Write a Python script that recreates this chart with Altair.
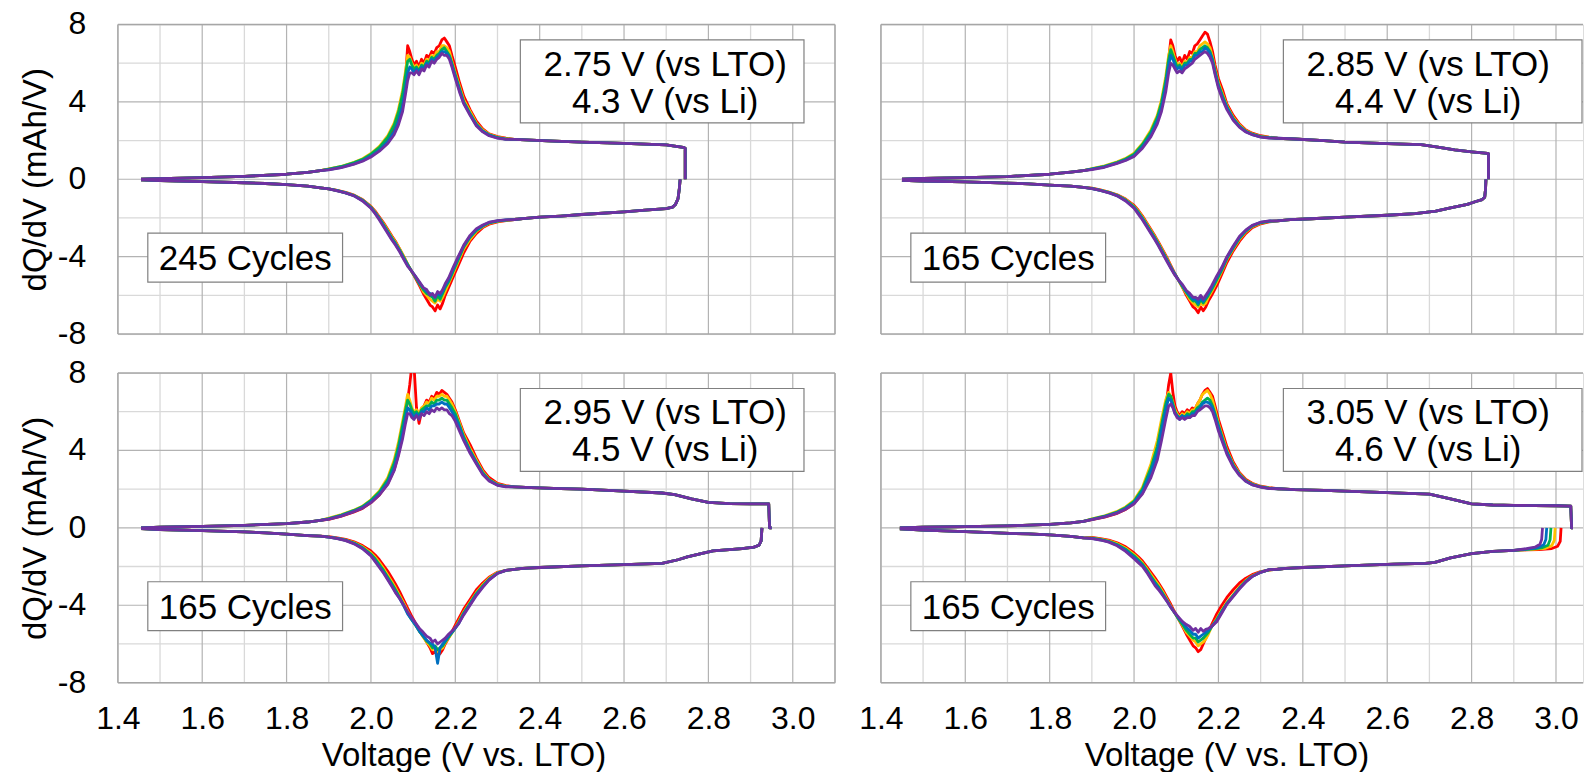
import altair as alt
import pandas as pd

FONT = "Liberation Sans"

# one colour per recorded cycle group, first cycle (red) drawn first, last (purple) on top
COLOURS = ["#ff0000", "#ffc000", "#00b050", "#0070c0", "#7030a0"]
CYCLE_KEYS = ["c1", "c2", "c3", "c4", "c5"]

ANNOT_LTO = ["2.75 V (vs LTO)", "2.85 V (vs LTO)", "2.95 V (vs LTO)", "3.05 V (vs LTO)"]
ANNOT_LI = ["4.3 V (vs Li)", "4.4 V (vs Li)", "4.5 V (vs Li)", "4.6 V (vs Li)"]
ANNOT_CYCLES = ["245 Cycles", "165 Cycles", "165 Cycles", "165 Cycles"]

X_TICKS = [1.4, 1.6, 1.8, 2.0, 2.2, 2.4, 2.6, 2.8, 3.0]
Y_TICKS = [-8, -4, 0, 4, 8]
Y_TICK_LABELS = ["-8", "-4", "0", "4", "8"]
X_GRID_MINOR = [1.5, 1.7, 1.9, 2.1, 2.3, 2.5, 2.7, 2.9]
X_GRID_MAJOR = [1.6, 1.8, 2.0, 2.2, 2.4, 2.6, 2.8, 3.0]
Y_GRID_MINOR = [-6, -2, 2, 6]
Y_GRID_MAJOR = [-4, 0, 4]
Y_BORDER = [-8, 8]

# voltage grid of the peak region (charge sweeps up, discharge sweeps down)
CHG_MID_V = [1.90, 1.93, 1.96, 1.98, 2.00, 2.02, 2.04, 2.055, 2.065, 2.075,
             2.082, 2.087, 2.092, 2.097, 2.102, 2.108, 2.114, 2.12, 2.126, 2.132,
             2.138, 2.144, 2.15, 2.156, 2.162, 2.168, 2.174, 2.18, 2.186, 2.192,
             2.20, 2.21, 2.22, 2.235, 2.25, 2.265, 2.28, 2.30, 2.32]
DIS_MID_V = [2.32, 2.30, 2.28, 2.265, 2.25, 2.235, 2.22, 2.208, 2.196, 2.184,
             2.176, 2.17, 2.164, 2.158, 2.152, 2.146, 2.14, 2.132, 2.124, 2.115,
             2.105, 2.095, 2.087, 2.078, 2.068, 2.058, 2.05, 2.04, 2.03, 2.02,
             2.01, 2.0, 1.98, 1.96, 1.94, 1.92, 1.9]

# ---- 2.75 V cut-off ----
P1_CHG_LO_V = [1.455, 1.5, 1.6, 1.7, 1.8, 1.85, 1.88]
P1_CHG_LO_Q = [0.0, 0.03, 0.08, 0.15, 0.26, 0.36, 0.45]
P1_CHG_MID_Q = [
    [0.52, 0.64, 0.84, 1.0, 1.25, 1.6, 2.1, 2.65, 3.2, 4.0, 5.2, 6.9, 6.6, 6.2, 5.9, 6.1, 5.8, 6.2, 6.0, 6.4,
     6.3, 6.6, 6.5, 6.8, 6.9, 7.2, 7.3, 7.1, 6.9, 6.4, 5.8, 5.0, 4.3, 3.6, 3.0, 2.6, 2.35, 2.2, 2.12],
    [0.54, 0.67, 0.88, 1.06, 1.33, 1.7, 2.25, 2.9, 3.6, 4.6, 5.6, 6.4, 6.3, 6.0, 5.8, 5.9, 5.7, 6.0, 5.9, 6.2,
     6.1, 6.4, 6.3, 6.6, 6.6, 6.9, 6.9, 6.8, 6.6, 6.1, 5.5, 4.8, 4.1, 3.5, 2.9, 2.55, 2.32, 2.18, 2.1],
    [0.53, 0.66, 0.86, 1.03, 1.3, 1.65, 2.18, 2.8, 3.45, 4.4, 5.4, 6.1, 6.2, 5.9, 5.7, 5.8, 5.6, 5.9, 5.8, 6.1,
     6.0, 6.3, 6.2, 6.4, 6.5, 6.7, 6.8, 6.6, 6.4, 6.0, 5.4, 4.7, 4.0, 3.4, 2.85, 2.5, 2.3, 2.16, 2.08],
    [0.5, 0.62, 0.8, 0.96, 1.2, 1.5, 1.95, 2.45, 3.0, 3.8, 4.7, 5.5, 5.8, 5.7, 5.5, 5.7, 5.5, 5.8, 5.7, 6.0,
     5.9, 6.2, 6.1, 6.3, 6.4, 6.6, 6.6, 6.5, 6.3, 5.9, 5.3, 4.6, 3.95, 3.35, 2.8, 2.48, 2.28, 2.14, 2.07],
    [0.49, 0.6, 0.78, 0.93, 1.15, 1.45, 1.85, 2.3, 2.8, 3.5, 4.4, 5.1, 5.5, 5.5, 5.4, 5.6, 5.4, 5.7, 5.6, 5.9,
     5.8, 6.1, 6.0, 6.2, 6.3, 6.5, 6.4, 6.4, 6.2, 5.8, 5.2, 4.5, 3.9, 3.3, 2.75, 2.45, 2.25, 2.12, 2.06],
]
P1_CHG_HI_V = [2.34, 2.38, 2.42, 2.5, 2.6, 2.7, 2.74, 2.745, 2.745]
P1_CHG_HI_Q = [2.06, 2.02, 1.98, 1.92, 1.85, 1.78, 1.65, 1.6, 0.0]
P1_DIS_HI_V = [2.733, 2.731, 2.728, 2.722, 2.715, 2.7, 2.65, 2.6, 2.5, 2.45, 2.4, 2.36, 2.34]
P1_DIS_HI_Q = [0.0, -0.5, -1.0, -1.3, -1.44, -1.52, -1.6, -1.68, -1.82, -1.9, -1.96, -2.03, -2.08]
P1_DIS_MID_Q = [
    [-2.14, -2.2, -2.32, -2.5, -2.8, -3.2, -3.8, -4.4, -5.0, -5.6, -6.0, -6.4, -6.7, -6.5, -6.8, -6.6, -6.5, -6.2, -5.9,
     -5.5, -5.1, -4.7, -4.4, -4.0, -3.6, -3.2, -2.95, -2.6, -2.25, -1.95, -1.65, -1.4, -1.05, -0.82, -0.68, -0.58, -0.5],
    [-2.12, -2.18, -2.28, -2.45, -2.7, -3.1, -3.6, -4.2, -4.8, -5.4, -5.8, -6.1, -6.3, -6.2, -6.4, -6.3, -6.2, -6.0, -5.8,
     -5.4, -5.05, -4.7, -4.4, -4.0, -3.6, -3.25, -3.0, -2.65, -2.3, -2.0, -1.7, -1.43, -1.07, -0.83, -0.69, -0.58, -0.5],
    [-2.11, -2.16, -2.26, -2.42, -2.65, -3.0, -3.5, -4.1, -4.7, -5.3, -5.6, -5.9, -6.2, -6.0, -6.3, -6.1, -6.0, -5.9, -5.7,
     -5.4, -5.05, -4.7, -4.4, -4.05, -3.65, -3.3, -3.05, -2.7, -2.35, -2.02, -1.72, -1.45, -1.08, -0.84, -0.7, -0.59, -0.5],
    [-2.1, -2.15, -2.24, -2.4, -2.6, -2.95, -3.45, -4.0, -4.6, -5.2, -5.5, -5.8, -6.0, -5.9, -6.1, -6.0, -5.9, -5.8, -5.6,
     -5.35, -5.0, -4.7, -4.45, -4.1, -3.7, -3.35, -3.1, -2.75, -2.4, -2.05, -1.75, -1.47, -1.1, -0.85, -0.7, -0.59, -0.5],
    [-2.1, -2.14, -2.22, -2.36, -2.55, -2.9, -3.4, -3.95, -4.5, -5.1, -5.4, -5.7, -5.9, -5.8, -6.1, -5.9, -6.0, -5.7, -5.6,
     -5.3, -5.0, -4.7, -4.5, -4.15, -3.75, -3.4, -3.15, -2.8, -2.45, -2.1, -1.78, -1.5, -1.12, -0.86, -0.71, -0.6, -0.5],
]
P1_DIS_LO_V = [1.88, 1.85, 1.8, 1.75, 1.7, 1.6, 1.5, 1.455]
P1_DIS_LO_Q = [-0.44, -0.36, -0.28, -0.22, -0.18, -0.12, -0.07, -0.03]

# ---- 2.85 V cut-off ----
P2_CHG_LO_V = [1.45, 1.5, 1.6, 1.7, 1.8, 1.85, 1.88]
P2_CHG_LO_Q = [0.0, 0.04, 0.08, 0.14, 0.26, 0.37, 0.45]
P2_CHG_MID_Q = [
    [0.53, 0.66, 0.85, 1.02, 1.25, 1.7, 2.35, 3.0, 3.7, 4.8, 6.2, 7.2, 6.9, 6.4, 6.1, 6.3, 6.0, 6.4, 6.2, 6.6,
     6.5, 6.9, 7.0, 7.2, 7.4, 7.6, 7.5, 7.1, 6.6, 5.9, 5.2, 4.6, 3.9, 3.3, 2.85, 2.55, 2.38, 2.25, 2.18],
    [0.55, 0.69, 0.9, 1.08, 1.35, 1.85, 2.55, 3.3, 4.1, 5.3, 6.4, 6.9, 6.6, 6.2, 5.9, 6.0, 5.8, 6.1, 6.0, 6.3,
     6.3, 6.6, 6.6, 6.9, 7.0, 7.1, 7.0, 6.8, 6.3, 5.7, 5.0, 4.4, 3.8, 3.2, 2.8, 2.5, 2.35, 2.22, 2.16],
    [0.54, 0.67, 0.88, 1.05, 1.3, 1.8, 2.45, 3.2, 3.95, 5.1, 6.2, 6.7, 6.4, 6.1, 5.8, 5.9, 5.7, 6.0, 6.0, 6.2,
     6.2, 6.5, 6.5, 6.7, 6.8, 6.9, 6.8, 6.6, 6.2, 5.6, 4.9, 4.3, 3.75, 3.15, 2.75, 2.48, 2.33, 2.2, 2.15],
    [0.52, 0.64, 0.84, 1.0, 1.22, 1.68, 2.3, 3.0, 3.7, 4.8, 5.9, 6.4, 6.2, 5.9, 5.7, 5.8, 5.6, 5.9, 5.9, 6.1,
     6.1, 6.4, 6.4, 6.6, 6.6, 6.8, 6.7, 6.5, 6.1, 5.5, 4.8, 4.2, 3.7, 3.1, 2.72, 2.46, 2.31, 2.19, 2.14],
    [0.5, 0.62, 0.82, 0.97, 1.18, 1.6, 2.2, 2.85, 3.5, 4.5, 5.5, 6.0, 5.9, 5.7, 5.5, 5.6, 5.5, 5.7, 5.8, 5.9,
     6.0, 6.2, 6.3, 6.4, 6.5, 6.6, 6.5, 6.3, 6.0, 5.4, 4.7, 4.1, 3.6, 3.05, 2.68, 2.44, 2.3, 2.18, 2.13],
]
P2_CHG_HI_V = [2.34, 2.38, 2.45, 2.5, 2.6, 2.68, 2.72, 2.76, 2.8, 2.838, 2.84, 2.84]
P2_CHG_HI_Q = [2.12, 2.08, 2.0, 1.92, 1.84, 1.79, 1.66, 1.52, 1.42, 1.34, 1.32, 0.0]
P2_DIS_HI_V = [2.834, 2.833, 2.831, 2.825, 2.81, 2.79, 2.75, 2.715, 2.666, 2.6, 2.5, 2.42, 2.37, 2.34]
P2_DIS_HI_Q = [0.0, -0.5, -0.93, -1.05, -1.15, -1.3, -1.48, -1.65, -1.78, -1.86, -1.96, -2.04, -2.09, -2.15]
P2_DIS_MID_Q = [
    [-2.2, -2.3, -2.5, -2.8, -3.2, -3.7, -4.3, -4.9, -5.5, -6.0, -6.3, -6.6, -6.8, -6.6, -6.9, -6.7, -6.6, -6.3, -6.0,
     -5.6, -5.2, -4.8, -4.45, -4.05, -3.65, -3.25, -2.95, -2.6, -2.25, -1.9, -1.6, -1.35, -1.02, -0.8, -0.66, -0.55, -0.46],
    [-2.18, -2.27, -2.45, -2.72, -3.1, -3.6, -4.15, -4.75, -5.3, -5.8, -6.1, -6.4, -6.5, -6.4, -6.6, -6.5, -6.4, -6.2, -5.9,
     -5.6, -5.2, -4.85, -4.5, -4.1, -3.7, -3.3, -3.0, -2.65, -2.3, -1.95, -1.65, -1.4, -1.05, -0.82, -0.67, -0.56, -0.47],
    [-2.17, -2.25, -2.42, -2.68, -3.05, -3.55, -4.1, -4.7, -5.2, -5.7, -6.0, -6.2, -6.4, -6.2, -6.5, -6.3, -6.3, -6.1, -5.85,
     -5.55, -5.2, -4.85, -4.55, -4.15, -3.75, -3.35, -3.05, -2.7, -2.35, -2.0, -1.7, -1.43, -1.07, -0.83, -0.68, -0.57, -0.47],
    [-2.16, -2.23, -2.4, -2.65, -3.0, -3.5, -4.05, -4.6, -5.1, -5.6, -5.9, -6.1, -6.3, -6.1, -6.4, -6.2, -6.2, -6.0, -5.8,
     -5.5, -5.2, -4.85, -4.55, -4.2, -3.8, -3.4, -3.1, -2.75, -2.4, -2.05, -1.75, -1.47, -1.1, -0.85, -0.69, -0.57, -0.48],
    [-2.15, -2.22, -2.38, -2.62, -2.95, -3.45, -4.0, -4.55, -5.0, -5.5, -5.8, -6.0, -6.2, -6.0, -6.2, -6.1, -6.1, -5.9, -5.75,
     -5.45, -5.2, -4.9, -4.6, -4.25, -3.85, -3.45, -3.15, -2.8, -2.45, -2.1, -1.8, -1.5, -1.12, -0.86, -0.7, -0.58, -0.48],
]
P2_DIS_LO_V = [1.88, 1.85, 1.8, 1.75, 1.7, 1.6, 1.5, 1.45]
P2_DIS_LO_Q = [-0.42, -0.36, -0.3, -0.24, -0.2, -0.14, -0.1, -0.05]

# ---- 2.95 V cut-off ----
P3_CHG_LO_V = [1.455, 1.5, 1.6, 1.7, 1.8, 1.85, 1.88]
P3_CHG_LO_Q = [0.0, 0.03, 0.07, 0.13, 0.22, 0.3, 0.38]
P3_CHG_MID_Q = [
    [0.44, 0.6, 0.82, 1.0, 1.3, 1.7, 2.3, 3.0, 3.8, 4.8, 5.8, 6.6, 7.4, 8.4, 8.4, 6.2, 5.4, 6.0, 6.3, 6.6,
     6.5, 6.8, 6.7, 7.0, 6.9, 7.1, 7.0, 6.9, 6.7, 6.5, 6.1, 5.5, 4.9, 4.3, 3.6, 3.0, 2.6, 2.3, 2.18],
    [0.5, 0.68, 0.92, 1.12, 1.45, 1.9, 2.6, 3.5, 4.4, 5.5, 6.3, 6.9, 6.6, 6.2, 6.0, 6.1, 5.9, 6.2, 6.3, 6.5,
     6.4, 6.7, 6.6, 6.8, 6.8, 6.9, 6.8, 6.8, 6.6, 6.4, 6.0, 5.4, 4.8, 4.1, 3.5, 2.9, 2.5, 2.25, 2.15],
    [0.48, 0.66, 0.9, 1.1, 1.42, 1.85, 2.5, 3.35, 4.2, 5.3, 6.1, 6.6, 6.4, 6.1, 5.9, 6.0, 5.8, 6.1, 6.2, 6.3,
     6.3, 6.5, 6.4, 6.6, 6.6, 6.7, 6.6, 6.6, 6.4, 6.2, 5.9, 5.3, 4.7, 4.0, 3.4, 2.85, 2.48, 2.23, 2.14],
    [0.46, 0.63, 0.86, 1.05, 1.35, 1.75, 2.35, 3.1, 3.9, 4.9, 5.7, 6.2, 6.1, 5.9, 5.7, 5.9, 5.7, 6.0, 6.0, 6.2,
     6.1, 6.3, 6.3, 6.4, 6.4, 6.5, 6.4, 6.4, 6.2, 6.0, 5.7, 5.2, 4.6, 3.95, 3.35, 2.8, 2.45, 2.21, 2.13],
    [0.45, 0.61, 0.84, 1.02, 1.3, 1.7, 2.25, 2.95, 3.7, 4.6, 5.4, 5.9, 5.9, 5.7, 5.6, 5.8, 5.6, 5.9, 5.8, 6.0,
     5.9, 6.1, 6.0, 6.2, 6.1, 6.2, 6.1, 6.1, 5.9, 5.8, 5.5, 5.0, 4.5, 3.85, 3.3, 2.75, 2.42, 2.2, 2.12],
]
P3_CHG_HI_V = [2.34, 2.38, 2.45, 2.5, 2.6, 2.69, 2.72, 2.76, 2.8, 2.85, 2.9, 2.943, 2.945, 2.95]
P3_CHG_HI_Q = [2.12, 2.08, 2.03, 2.0, 1.9, 1.8, 1.72, 1.5, 1.32, 1.25, 1.24, 1.24, 0.0, 0.0]
P3_DIS_HI_V = [2.927, 2.925, 2.92, 2.908, 2.88, 2.85, 2.811, 2.78, 2.75, 2.728, 2.69, 2.6, 2.5, 2.4, 2.36, 2.34]
P3_DIS_HI_Q = [0.0, -0.67, -0.9, -1.0, -1.08, -1.13, -1.19, -1.35, -1.5, -1.65, -1.84, -1.9, -1.97, -2.05, -2.1, -2.15]
P3_DIS_MID_Q = [
    [-2.2, -2.3, -2.55, -2.85, -3.2, -3.7, -4.2, -4.7, -5.2, -5.7, -6.0, -6.3, -6.5, -6.6, -6.4, -6.5, -6.2, -5.9, -5.6,
     -5.3, -4.9, -4.5, -4.15, -3.75, -3.3, -2.9, -2.6, -2.25, -1.95, -1.65, -1.4, -1.2, -0.92, -0.72, -0.6, -0.52, -0.46],
    [-2.2, -2.32, -2.6, -2.95, -3.35, -3.85, -4.35, -4.85, -5.3, -5.7, -5.95, -6.2, -6.3, -6.4, -6.2, -6.3, -6.1, -5.9, -5.65,
     -5.35, -5.0, -4.65, -4.3, -3.9, -3.5, -3.1, -2.8, -2.45, -2.1, -1.8, -1.52, -1.3, -0.98, -0.76, -0.63, -0.54, -0.47],
    [-2.2, -2.34, -2.65, -3.0, -3.4, -3.9, -4.4, -4.9, -5.3, -5.65, -5.9, -6.1, -6.2, -6.3, -6.1, -6.2, -6.0, -5.85, -5.6,
     -5.35, -5.0, -4.7, -4.4, -4.0, -3.6, -3.2, -2.9, -2.55, -2.2, -1.9, -1.6, -1.36, -1.02, -0.79, -0.64, -0.55, -0.48],
    [-2.2, -2.35, -2.68, -3.05, -3.45, -3.95, -4.45, -4.95, -5.3, -5.6, -5.85, -6.0, -6.2, -7.0, -6.2, -6.0, -5.95, -5.8, -5.6,
     -5.35, -5.0, -4.7, -4.45, -4.05, -3.65, -3.3, -3.0, -2.65, -2.3, -2.0, -1.7, -1.42, -1.06, -0.81, -0.65, -0.55, -0.48],
    [-2.2, -2.36, -2.7, -3.08, -3.5, -4.0, -4.5, -4.95, -5.25, -5.5, -5.7, -5.8, -5.9, -6.0, -5.8, -5.9, -5.7, -5.6, -5.4,
     -5.2, -4.9, -4.6, -4.35, -4.0, -3.65, -3.35, -3.05, -2.7, -2.35, -2.05, -1.75, -1.45, -1.08, -0.83, -0.66, -0.56, -0.48],
]
P3_DIS_LO_V = [1.88, 1.85, 1.8, 1.75, 1.7, 1.6, 1.5, 1.455]
P3_DIS_LO_Q = [-0.43, -0.4, -0.33, -0.26, -0.21, -0.15, -0.09, -0.04]

# ---- 3.05 V cut-off ----
P4_CHG_LO_V = [1.445, 1.5, 1.6, 1.7, 1.8, 1.85, 1.88]
P4_CHG_LO_Q = [0.0, 0.03, 0.06, 0.1, 0.18, 0.26, 0.33]
P4_CHG_MID_Q = [
    [0.42, 0.55, 0.75, 0.95, 1.25, 1.8, 2.8, 3.9, 5.0, 6.2, 7.4, 8.0, 7.0, 6.3, 6.0, 5.8, 6.0, 5.9, 6.1, 6.0,
     6.2, 6.1, 6.4, 6.6, 6.9, 7.1, 7.2, 7.0, 6.8, 6.3, 5.6, 4.9, 4.2, 3.4, 2.85, 2.5, 2.3, 2.15, 2.08],
    [0.46, 0.62, 0.85, 1.08, 1.42, 2.1, 3.3, 4.5, 5.6, 6.6, 7.0, 6.8, 6.5, 6.1, 5.9, 5.7, 5.9, 5.8, 6.0, 5.9,
     6.1, 6.1, 6.4, 6.6, 6.9, 7.0, 7.1, 6.9, 6.6, 6.1, 5.4, 4.7, 4.0, 3.3, 2.8, 2.45, 2.27, 2.13, 2.06],
    [0.45, 0.6, 0.82, 1.04, 1.37, 2.0, 3.1, 4.2, 5.3, 6.4, 6.9, 6.8, 6.4, 6.0, 5.8, 5.7, 5.8, 5.7, 5.9, 5.8,
     6.0, 6.0, 6.2, 6.3, 6.5, 6.6, 6.7, 6.6, 6.3, 5.9, 5.3, 4.6, 3.95, 3.25, 2.76, 2.43, 2.25, 2.12, 2.05],
    [0.43, 0.58, 0.79, 1.0, 1.3, 1.88, 2.9, 3.9, 5.0, 6.1, 6.7, 6.6, 6.3, 5.9, 5.8, 5.6, 5.8, 5.7, 5.8, 5.7,
     5.9, 5.9, 6.1, 6.2, 6.4, 6.5, 6.5, 6.4, 6.2, 5.8, 5.2, 4.5, 3.9, 3.2, 2.73, 2.41, 2.23, 2.11, 2.04],
    [0.42, 0.56, 0.76, 0.96, 1.24, 1.75, 2.6, 3.5, 4.5, 5.6, 6.3, 6.4, 6.2, 5.9, 5.7, 5.6, 5.7, 5.6, 5.7, 5.7,
     5.8, 5.8, 6.0, 6.1, 6.2, 6.3, 6.3, 6.2, 6.0, 5.6, 5.0, 4.4, 3.8, 3.15, 2.7, 2.4, 2.22, 2.1, 2.03],
]
P4_CHG_HI_V = [2.34, 2.36, 2.38, 2.45, 2.5, 2.6, 2.7, 2.75, 2.8, 2.85, 2.9, 2.95, 3.0, 3.035, 3.037, 3.04]
P4_CHG_HI_Q = [2.02, 2.0, 1.97, 1.94, 1.9, 1.82, 1.74, 1.5, 1.24, 1.18, 1.16, 1.15, 1.14, 1.12, 0.0, 0.0]
# each cycle starts its discharge at a slightly different voltage
P4_DIS_START_V = [[3.012, 3.010, 3.004, 2.99, 2.96, 2.93],
                  [2.998, 2.996, 2.99, 2.975, 2.945],
                  [2.988, 2.986, 2.981, 2.966, 2.94],
                  [2.978, 2.976, 2.971, 2.958, 2.935],
                  [2.968, 2.966, 2.962, 2.95, 2.93]]
P4_DIS_START_Q = [[0.0, -0.7, -0.95, -1.07, -1.12, -1.14],
                  [0.0, -0.65, -0.92, -1.06, -1.11],
                  [0.0, -0.62, -0.9, -1.04, -1.1],
                  [0.0, -0.6, -0.88, -1.02, -1.09],
                  [0.0, -0.6, -0.85, -1.0, -1.08]]
P4_DIS_HI_V = [2.9, 2.85, 2.8, 2.75, 2.713, 2.69, 2.616, 2.5, 2.4, 2.36, 2.34]
P4_DIS_HI_Q = [-1.17, -1.22, -1.33, -1.55, -1.79, -1.84, -1.88, -1.97, -2.05, -2.1, -2.14]
P4_DIS_MID_Q = [
    [-2.18, -2.26, -2.42, -2.6, -2.85, -3.2, -3.6, -4.0, -4.45, -5.0, -5.4, -5.7, -6.0, -6.3, -6.4, -6.2, -6.1, -5.8, -5.5,
     -5.1, -4.7, -4.3, -3.95, -3.6, -3.2, -2.85, -2.6, -2.3, -2.0, -1.72, -1.5, -1.3, -0.98, -0.77, -0.64, -0.56, -0.5],
    [-2.17, -2.28, -2.48, -2.72, -3.05, -3.45, -3.85, -4.25, -4.7, -5.1, -5.5, -5.75, -5.9, -6.0, -6.1, -5.9, -5.8, -5.6, -5.4,
     -5.05, -4.7, -4.35, -4.05, -3.7, -3.3, -2.95, -2.72, -2.42, -2.1, -1.82, -1.58, -1.38, -1.05, -0.82, -0.67, -0.58, -0.52],
    [-2.17, -2.29, -2.5, -2.75, -3.1, -3.5, -3.9, -4.3, -4.75, -5.1, -5.4, -5.55, -5.7, -5.8, -5.9, -5.7, -5.7, -5.5, -5.3,
     -5.0, -4.7, -4.35, -4.1, -3.75, -3.4, -3.05, -2.82, -2.5, -2.17, -1.88, -1.65, -1.45, -1.1, -0.86, -0.7, -0.6, -0.53],
    [-2.16, -2.3, -2.51, -2.78, -3.12, -3.52, -3.92, -4.35, -4.8, -5.1, -5.3, -5.4, -5.5, -5.6, -5.7, -5.5, -5.5, -5.3, -5.15,
     -4.9, -4.65, -4.35, -4.1, -3.78, -3.45, -3.12, -2.9, -2.58, -2.24, -1.94, -1.72, -1.52, -1.16, -0.9, -0.72, -0.62, -0.55],
    [-2.16, -2.3, -2.52, -2.8, -3.15, -3.55, -3.95, -4.4, -4.85, -5.1, -5.2, -5.25, -5.35, -5.2, -5.4, -5.2, -5.3, -5.1, -5.0,
     -4.85, -4.6, -4.35, -4.1, -3.8, -3.5, -3.2, -3.0, -2.65, -2.3, -2.0, -1.8, -1.6, -1.22, -0.93, -0.74, -0.63, -0.56],
]
P4_DIS_LO_V = [1.88, 1.85, 1.8, 1.75, 1.706, 1.6, 1.5, 1.445]
P4_DIS_LO_Q = [-0.52, -0.44, -0.36, -0.31, -0.29, -0.2, -0.12, -0.05]

NO_START = [[], [], [], [], []]
PANEL_PARTS = [
    (P1_CHG_LO_V, P1_CHG_LO_Q, P1_CHG_MID_Q, P1_CHG_HI_V, P1_CHG_HI_Q,
     NO_START, NO_START, P1_DIS_HI_V, P1_DIS_HI_Q, P1_DIS_MID_Q, P1_DIS_LO_V, P1_DIS_LO_Q),
    (P2_CHG_LO_V, P2_CHG_LO_Q, P2_CHG_MID_Q, P2_CHG_HI_V, P2_CHG_HI_Q,
     NO_START, NO_START, P2_DIS_HI_V, P2_DIS_HI_Q, P2_DIS_MID_Q, P2_DIS_LO_V, P2_DIS_LO_Q),
    (P3_CHG_LO_V, P3_CHG_LO_Q, P3_CHG_MID_Q, P3_CHG_HI_V, P3_CHG_HI_Q,
     NO_START, NO_START, P3_DIS_HI_V, P3_DIS_HI_Q, P3_DIS_MID_Q, P3_DIS_LO_V, P3_DIS_LO_Q),
    (P4_CHG_LO_V, P4_CHG_LO_Q, P4_CHG_MID_Q, P4_CHG_HI_V, P4_CHG_HI_Q,
     P4_DIS_START_V, P4_DIS_START_Q, P4_DIS_HI_V, P4_DIS_HI_Q, P4_DIS_MID_Q, P4_DIS_LO_V, P4_DIS_LO_Q),
]

rows = []
for p, parts in enumerate(PANEL_PARTS):
    (clv, clq, cmq, chv, chq, dsv, dsq, dhv, dhq, dmq, dlv, dlq) = parts
    for k, key in enumerate(CYCLE_KEYS):
        chg_v = clv + CHG_MID_V + chv
        chg_q = clq + cmq[k] + chq
        dis_v = dsv[k] + dhv + DIS_MID_V + dlv
        dis_q = dsq[k] + dhq + dmq[k] + dlq
        for branch, vs, qs in (("chg", chg_v, chg_q), ("dis", dis_v, dis_q)):
            for i, (v, q) in enumerate(zip(vs, qs)):
                rows.append({"panel": p, "cycle": key, "series": f"{key}-{branch}",
                             "i": i, "V": v, "Q": q})
curves = pd.DataFrame(rows)

annot = pd.DataFrame({"panel": [0, 1, 2, 3], "lto": ANNOT_LTO, "li": ANNOT_LI, "cyc": ANNOT_CYCLES})
y_labels = pd.DataFrame({"Q": Y_TICKS, "lab": Y_TICK_LABELS})

FULL_W = 718
PLOT_H = 310


def make_panel(p, left, bottom):
    xmax = 3.1 if left else 3.064
    width = FULL_W if left else 703
    xs = alt.Scale(domain=[1.4, xmax], nice=False, zero=False)
    ys = alt.Scale(domain=[-8, 8], nice=False, zero=False)

    if bottom:
        x_axis = alt.Axis(values=X_TICKS, format=".1f", grid=False, ticks=False, tickSize=0, domain=False,
                          labelFont=FONT, labelFontSize=32, labelColor="#000000", labelPadding=36,
                          labelBaseline="middle", labelFlush=False, labelOverlap=False,
                          title="Voltage (V vs. LTO)", titleFont=FONT, titleFontSize=33,
                          titleFontWeight="normal", titleColor="#000000",
                          titleX=FULL_W / 2 - 13, titleY=73, titleAlign="center", titleBaseline="middle")
    else:
        x_axis = None
    if left:
        y_axis = alt.Axis(values=Y_TICKS, grid=False, ticks=False, tickSize=0, domain=False, labels=False,
                          title="dQ/dV (mAh/V)", titleFont=FONT, titleFontSize=33,
                          titleFontWeight="normal", titleColor="#000000", titleAngle=270,
                          titleX=-82, titleY=PLOT_H / 2, titleAlign="center", titleBaseline="middle")
    else:
        y_axis = None

    def X():
        return alt.X("V:Q", scale=xs, axis=x_axis)

    def Y():
        return alt.Y("Q:Q", scale=ys, axis=y_axis)

    x_border = [1.4, 3.1] if left else [1.4]
    layers = [
        alt.Chart(pd.DataFrame({"V": X_GRID_MINOR})).mark_rule(color="#d9d9d9", strokeWidth=1.3).encode(x=X()),
        alt.Chart(pd.DataFrame({"Q": Y_GRID_MINOR})).mark_rule(color="#d9d9d9", strokeWidth=1.3).encode(y=Y()),
        alt.Chart(pd.DataFrame({"V": X_GRID_MAJOR})).mark_rule(color="#b3b3b3", strokeWidth=1.2).encode(x=X()),
        alt.Chart(pd.DataFrame({"Q": Y_GRID_MAJOR})).mark_rule(color="#b3b3b3", strokeWidth=1.2).encode(y=Y()),
        alt.Chart(pd.DataFrame({"V": x_border})).mark_rule(color="#a6a6a6", strokeWidth=1.5).encode(x=X()),
        alt.Chart(pd.DataFrame({"Q": Y_BORDER})).mark_rule(color="#a6a6a6", strokeWidth=1.5).encode(y=Y()),
    ]
    if left:
        # tick labels of the dQ/dV axis, placed through the y scale
        layers.append(
            alt.Chart(y_labels).mark_text(font=FONT, fontSize=32, color="#000000", align="right",
                                          baseline="middle").encode(x=alt.value(-31.7), y=Y(), text="lab:N")
        )
    pdata = curves[curves.panel == p]
    for k, key in enumerate(CYCLE_KEYS):
        layers.append(
            alt.Chart(pdata[pdata.cycle == key]).mark_line(
                clip=True, strokeWidth=2.8, strokeJoin="round", color=COLOURS[k]
            ).encode(x=X(), y=Y(), detail="series:N", order="i:Q")
        )
    a = annot[annot.panel == p]
    box = dict(fill="white", stroke="#808080", strokeWidth=1.2)
    txt = dict(font=FONT, fontSize=35, color="#000000", align="center", baseline="middle")
    box_right = 687 if left else 702
    layers += [
        alt.Chart(a).mark_rect(**box).encode(x=alt.value(403), x2=alt.value(box_right),
                                             y=alt.value(15.5), y2=alt.value(98.5)),
        alt.Chart(a).mark_text(**txt).encode(x=alt.value(548), y=alt.value(40.5), text="lto:N"),
        alt.Chart(a).mark_text(**txt).encode(x=alt.value(548), y=alt.value(77.5), text="li:N"),
        alt.Chart(a).mark_rect(**box).encode(x=alt.value(30), x2=alt.value(225),
                                             y=alt.value(209), y2=alt.value(258)),
        alt.Chart(a).mark_text(**txt).encode(x=alt.value(127.5), y=alt.value(235), text="cyc:N"),
    ]
    return alt.layer(*layers).properties(width=width, height=PLOT_H)


chart = alt.concat(
    make_panel(0, True, False), make_panel(1, False, False),
    make_panel(2, True, True), make_panel(3, False, True),
    columns=2, spacing={"row": 39, "column": 46}, bounds="flush",
).properties(
    padding={"left": 19, "top": 7, "right": 0, "bottom": 0},
    background="white",
).configure_view(stroke=None).configure(font=FONT)

chart.save("out.html", embed_options={"renderer": "svg", "actions": False})
